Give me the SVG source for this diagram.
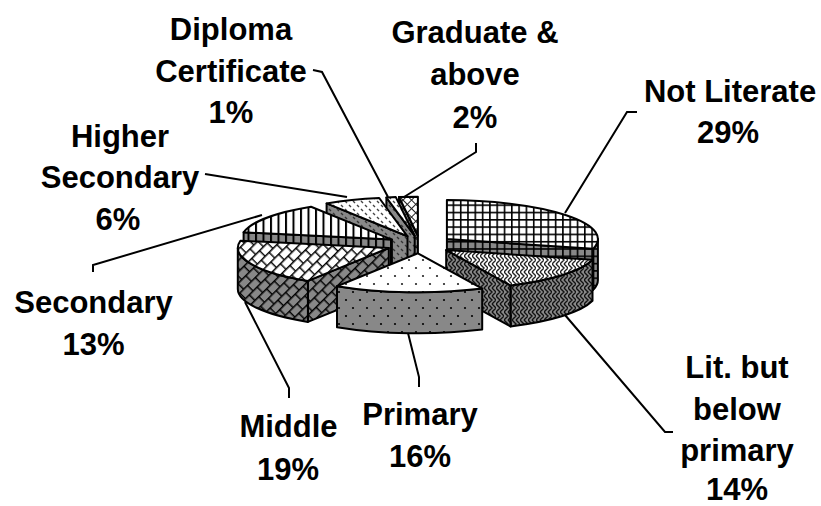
<svg xmlns="http://www.w3.org/2000/svg" width="821" height="506" viewBox="0 0 821 506">
<style>
.o{stroke:#000;stroke-width:2;stroke-linejoin:round}
.lead{fill:none;stroke:#000;stroke-width:2}
.lbl{font-family:"Liberation Sans",Arial,sans-serif;font-weight:bold;font-size:31px;fill:#000;text-anchor:middle}
</style>
<defs>
<pattern id="gridW" patternUnits="userSpaceOnUse" width="7.3" height="7.3"><rect width="7.3" height="7.3" fill="#fff"/><path d="M0 .8H7.3M.8 0V7.3" stroke="#000" stroke-width="1.6"/></pattern>
<pattern id="gridG" patternUnits="userSpaceOnUse" width="7.3" height="7.3"><rect width="7.3" height="7.3" fill="#888"/><path d="M0 .8H7.3M.8 0V7.3" stroke="#000" stroke-width="1.6"/></pattern>
<pattern id="weaveW" patternUnits="userSpaceOnUse" width="8" height="8"><rect width="8" height="8" fill="#fff"/><path d="M0 0L4 4L0 8M4 0L8 4L4 8" fill="none" stroke="#222" stroke-width="1.4"/></pattern>
<pattern id="weaveG" patternUnits="userSpaceOnUse" width="8" height="8"><rect width="8" height="8" fill="#888"/><path d="M0 0L4 4L0 8M4 0L8 4L4 8" fill="none" stroke="#111" stroke-width="1.4"/></pattern>
<pattern id="dotW" patternUnits="userSpaceOnUse" width="14" height="16"><rect width="14" height="16" fill="#fff"/><circle cx="3" cy="4" r="1.1" fill="#222"/><circle cx="10" cy="12" r="1.1" fill="#222"/></pattern>
<pattern id="dotG" patternUnits="userSpaceOnUse" width="14" height="16"><rect width="14" height="16" fill="#888"/><circle cx="3" cy="4" r="1.1" fill="#000"/><circle cx="10" cy="12" r="1.1" fill="#000"/></pattern>
<pattern id="brickW" patternUnits="userSpaceOnUse" width="11" height="16" patternTransform="rotate(-45)"><rect width="11" height="16" fill="#fff"/><path d="M0 .8H11M0 8.8H11M.8 0V8.8M6.3 8.8V16" stroke="#000" stroke-width="1.4"/></pattern>
<pattern id="brickG" patternUnits="userSpaceOnUse" width="11" height="16" patternTransform="rotate(-45)"><rect width="11" height="16" fill="#888"/><path d="M0 .8H11M0 8.8H11M.8 0V8.8M6.3 8.8V16" stroke="#000" stroke-width="1.4"/></pattern>
<pattern id="stripeW" patternUnits="userSpaceOnUse" width="7.5" height="10"><rect width="7.5" height="10" fill="#fff"/><path d="M1 0V10" stroke="#000" stroke-width="2"/></pattern>
<pattern id="stripeG" patternUnits="userSpaceOnUse" width="7.5" height="10"><rect width="7.5" height="10" fill="#888"/><path d="M1 0V10" stroke="#000" stroke-width="2"/></pattern>
<pattern id="dashW" patternUnits="userSpaceOnUse" width="8" height="8"><rect width="8" height="8" fill="#fff"/><path d="M1 1L3 3M5 5L7 7" stroke="#444" stroke-width="1.4"/></pattern>
<pattern id="dashG" patternUnits="userSpaceOnUse" width="8" height="8"><rect width="8" height="8" fill="#888"/><path d="M1 1L3 3M5 5L7 7" stroke="#333" stroke-width="1.4"/></pattern>
<pattern id="hatchW" patternUnits="userSpaceOnUse" width="6" height="6" patternTransform="rotate(45)"><rect width="6" height="6" fill="#fff"/><path d="M0 .5H6M.5 0V6" stroke="#222" stroke-width="1"/></pattern>
<pattern id="hatchG" patternUnits="userSpaceOnUse" width="6" height="6" patternTransform="rotate(45)"><rect width="6" height="6" fill="#888"/><path d="M0 .5H6M.5 0V6" stroke="#111" stroke-width="1"/></pattern>
</defs>
<rect width="821" height="506" fill="#fff"/>

<g id="graduate">
<path class="o" fill="url(#hatchG)" d="M399,197 L417.9,235.7 L417.9,276.7 L399,238 Z"/>
<path class="o" fill="url(#hatchW)" d="M417.9,235.7 L399,197 A151,39 0 0,1 417.9,196.7 Z"/>
</g>
<g id="diploma">
<path class="o" fill="url(#dashG)" d="M386.4,197.5 L414.7,235.8 L414.7,276.8 L386.4,238.5 Z"/>
<path class="o" fill="url(#dashW)" d="M414.7,235.8 L386.4,197.5 A151,39 0 0,1 395.8,197.1 Z"/>
</g>
<g id="higher-secondary">
<path class="o" fill="url(#dashG)" d="M326.6,203.4 L407.5,236.3 L407.5,277.3 L326.6,244.4 Z"/>
<path class="o" fill="url(#dashW)" d="M407.5,236.3 L326.6,203.4 A151,39 0 0,1 379.2,198 Z"/>
</g>
<g id="secondary">
<path class="o" fill="url(#stripeG)" d="M243.6,232.3 L391.9,239.6 L391.9,280.6 L243.6,273.3 Z"/>
<path class="o" fill="url(#stripeW)" d="M391.9,239.6 L243.6,232.3 A151,39 0 0,1 311,206.7 Z"/>
</g>
<g id="middle">
<path class="o" fill="url(#brickG)" d="M388.8,248 L307.9,280.9 L307.9,321.9 L388.8,289 Z"/>
<path class="o" fill="url(#brickG)" d="M307.9,280.9 A151,39 0 0,1 237.8,248 L237.8,289 A151,39 0 0,0 307.9,321.9 Z"/>
<path class="o" fill="url(#brickW)" d="M388.8,248 L307.9,280.9 A151,39 0 0,1 240.5,240.7 Z"/>
</g>
<g id="not-literate">
<path class="o" fill="url(#gridG)" d="M597.9,239.1 A151,39 0 0,1 593.2,248.8 L593.2,289.8 A151,39 0 0,0 597.9,280.1 Z"/>
<path class="o" fill="url(#gridG)" d="M446.9,239.1 L593.2,248.8 L593.2,289.8 L446.9,280.1 Z"/>
<path class="o" fill="url(#gridW)" d="M446.9,239.1 L446.9,200.1 A151,39 0 0,1 593.2,248.8 Z"/>
</g>
<g id="lit-below-primary">
<path class="o" fill="url(#weaveG)" d="M592.5,259.8 A151,39 0 0,1 510.5,285.4 L510.5,326.4 A151,39 0 0,0 592.5,300.8 Z"/>
<path class="o" fill="url(#weaveG)" d="M446.2,250.1 L510.5,285.4 L510.5,326.4 L446.2,291.1 Z"/>
<path class="o" fill="url(#weaveW)" d="M446.2,250.1 L592.5,259.8 A151,39 0 0,1 510.5,285.4 Z"/>
</g>
<g id="primary">
<path class="o" fill="url(#dotG)" d="M482.2,288.6 A151,39 0 0,1 337,286.2 L337,327.2 A151,39 0 0,0 482.2,329.6 Z"/>
<path class="o" fill="url(#dotW)" d="M417.9,253.3 L482.2,288.6 A151,39 0 0,1 337,286.2 Z"/>
</g>

<g id="connectors">
<path class="lead" d="M313,70 L322,72 L388,197"/>
<path class="lead" d="M476,143 L476,152 L404,197"/>
<path class="lead" d="M205,174 L347,197"/>
<path class="lead" d="M93,272 L93,265 L262,215"/>
<path class="lead" d="M289,398 L289,388 L245,302"/>
<path class="lead" d="M419,387 L419,377 L408,333"/>
<path class="lead" d="M637,112 L627,112 L565,213"/>
<path class="lead" d="M673,432 L665,432 L565,315"/>
</g>

<g id="labels">
<text class="lbl"><tspan x="231" y="40">Diploma</tspan><tspan x="231" y="81.5">Certificate</tspan><tspan x="231" y="123">1%</tspan></text>
<text class="lbl"><tspan x="120" y="146.7">Higher</tspan><tspan x="120" y="188.3">Secondary</tspan><tspan x="118" y="230">6%</tspan></text>
<text class="lbl"><tspan x="475" y="43.3">Graduate &amp;</tspan><tspan x="475" y="85">above</tspan><tspan x="475" y="128.3">2%</tspan></text>
<text class="lbl"><tspan x="730" y="101.7">Not Literate</tspan><tspan x="728" y="143.3">29%</tspan></text>
<text class="lbl"><tspan x="93.5" y="313.3">Secondary</tspan><tspan x="93.5" y="355">13%</tspan></text>
<text class="lbl"><tspan x="288.5" y="436.7">Middle</tspan><tspan x="288" y="480">19%</tspan></text>
<text class="lbl"><tspan x="420" y="425">Primary</tspan><tspan x="420" y="466.7">16%</tspan></text>
<text class="lbl"><tspan x="737" y="378.3">Lit. but</tspan><tspan x="737" y="419.5">below</tspan><tspan x="737" y="461">primary</tspan><tspan x="737" y="500">14%</tspan></text>
</g>
</svg>
